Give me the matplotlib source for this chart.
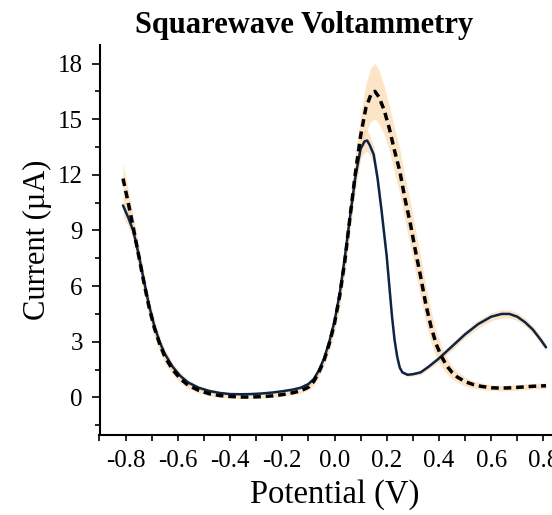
import matplotlib
matplotlib.use("Agg")
import matplotlib.pyplot as plt
from matplotlib.ticker import MultipleLocator, FormatStrFormatter

plt.rcParams['font.family'] = ['Liberation Serif', 'DejaVu Serif']
plt.rcParams['lines.scale_dashes'] = False

# Potential (V) for the solid (navy) series
pot_solid = [-0.81, -0.79, -0.77, -0.75, -0.73, -0.71, -0.69, -0.67, -0.65, -0.62,
             -0.59, -0.56, -0.52, -0.48, -0.44, -0.40, -0.36, -0.32, -0.28, -0.24,
             -0.20, -0.16, -0.13, -0.10, -0.08, -0.06, -0.04, -0.02, 0.00, 0.02,
             0.04, 0.06, 0.08, 0.10, 0.115, 0.125, 0.135, 0.15, 0.165, 0.18,
             0.20, 0.21, 0.22, 0.23, 0.24, 0.25, 0.26, 0.28, 0.30, 0.33,
             0.36, 0.40, 0.45, 0.50, 0.55, 0.60, 0.64, 0.67, 0.70, 0.73,
             0.76, 0.79, 0.81]
cur_solid = [10.35, 9.7, 8.95, 7.7, 6.3, 4.95, 3.85, 3.0, 2.35, 1.65,
             1.15, 0.8, 0.52, 0.35, 0.24, 0.18, 0.17, 0.18, 0.21, 0.26,
             0.33, 0.42, 0.52, 0.72, 0.98, 1.45, 2.1, 3.0, 4.1, 5.6,
             7.6, 9.8, 11.9, 13.4, 13.8, 13.85, 13.6, 13.1, 11.8, 10.1,
             7.6, 6.0, 4.4, 3.1, 2.2, 1.6, 1.35, 1.22, 1.25, 1.35,
             1.65, 2.1, 2.75, 3.4, 3.95, 4.35, 4.5, 4.5, 4.35, 4.05,
             3.65, 3.1, 2.7]
sd_solid = [0.55, 0.5, 0.45, 0.4, 0.35, 0.3, 0.28, 0.25, 0.22, 0.2,
            0.18, 0.15, 0.12, 0.1, 0.08, 0.08, 0.08, 0.08, 0.08, 0.08,
            0.08, 0.1, 0.1, 0.12, 0.15, 0.18, 0.2, 0.25, 0.3, 0.35,
            0.4, 0.45, 0.5, 0.55, 0.6, 0.6, 0.55, 0.5, 0.45, 0.4,
            0.35, 0.3, 0.25, 0.2, 0.15, 0.12, 0.1, 0.1, 0.1, 0.12,
            0.15, 0.18, 0.2, 0.2, 0.22, 0.22, 0.22, 0.22, 0.22, 0.22,
            0.2, 0.2, 0.2]

# Potential (V) for the dashed (black) series
pot_dash = [-0.81, -0.79, -0.77, -0.75, -0.73, -0.71, -0.69, -0.67, -0.65, -0.62,
            -0.59, -0.56, -0.52, -0.48, -0.44, -0.40, -0.36, -0.32, -0.28, -0.24,
            -0.20, -0.16, -0.13, -0.10, -0.08, -0.06, -0.04, -0.02, 0.00, 0.02,
            0.04, 0.06, 0.08, 0.10, 0.12, 0.14, 0.155, 0.17, 0.19, 0.21,
            0.23, 0.25, 0.27, 0.29, 0.31, 0.33, 0.35, 0.37, 0.39, 0.41,
            0.43, 0.45, 0.47, 0.50, 0.53, 0.56, 0.60, 0.64, 0.68, 0.72,
            0.76, 0.81]
cur_dash = [11.8, 10.5, 9.1, 7.65, 6.2, 4.85, 3.75, 2.9, 2.2, 1.5,
            1.0, 0.65, 0.38, 0.2, 0.1, 0.05, 0.02, 0.02, 0.04, 0.08,
            0.15, 0.25, 0.35, 0.55, 0.85, 1.35, 2.0, 2.9, 4.0, 5.5,
            7.4, 9.8, 12.1, 14.1, 15.6, 16.35, 16.5, 16.2, 15.5, 14.5,
            13.3, 12.2, 10.7, 9.4, 7.9, 6.5, 5.0, 3.8, 2.85, 2.2,
            1.7, 1.35, 1.1, 0.85, 0.7, 0.6, 0.52, 0.5, 0.52, 0.56,
            0.6, 0.63]
sd_dash = [0.8, 0.7, 0.65, 0.6, 0.55, 0.5, 0.45, 0.4, 0.35, 0.28,
           0.22, 0.18, 0.15, 0.12, 0.1, 0.08, 0.08, 0.08, 0.08, 0.08,
           0.1, 0.1, 0.12, 0.15, 0.2, 0.25, 0.3, 0.4, 0.5, 0.6,
           0.7, 0.8, 0.95, 1.1, 1.3, 1.45, 1.5, 1.45, 1.3, 1.2,
           1.2, 1.2, 1.2, 1.2, 1.15, 1.1, 1.0, 0.85, 0.7, 0.55,
           0.45, 0.35, 0.3, 0.25, 0.2, 0.18, 0.15, 0.15, 0.15, 0.15,
           0.15, 0.15]

x_ticks = [-0.8, -0.6, -0.4, -0.2, 0.0, 0.2, 0.4, 0.6, 0.8]
y_ticks = [0, 3, 6, 9, 12, 15, 18]

W, H = 552, 515
fig = plt.figure(figsize=(W / 100, H / 100), dpi=100)
ax = fig.add_axes([99.5 / W, (H - 434.5) / H, 470 / W, (434.5 - 45) / H])

band_color = (0.98, 0.80, 0.56)
lo_s = [c - s for c, s in zip(cur_solid, sd_solid)]
hi_s = [c + s for c, s in zip(cur_solid, sd_solid)]
lo_d = [c - s for c, s in zip(cur_dash, sd_dash)]
hi_d = [c + s for c, s in zip(cur_dash, sd_dash)]
ax.fill_between(pot_solid, lo_s, hi_s, color=band_color, alpha=0.5, lw=0)
ax.fill_between(pot_dash, lo_d, hi_d, color=band_color, alpha=0.5, lw=0)

ax.plot(pot_solid, cur_solid, color='#0c2447', lw=1.8, solid_capstyle='round')
ax.plot(pot_dash, cur_dash, color='black', lw=2.5, dashes=(5.5, 3.5))

ax.set_xlim(-0.9, 0.9)
ax.set_ylim(-2, 19)
ax.set_xticks(x_ticks)
ax.set_yticks(y_ticks)
ax.xaxis.set_major_formatter(FormatStrFormatter('%.1f'))
ax.xaxis.set_minor_locator(MultipleLocator(0.1))
ax.yaxis.set_minor_locator(MultipleLocator(1.5))

for s in ['top', 'right']:
    ax.spines[s].set_visible(False)
for s in ['left', 'bottom']:
    ax.spines[s].set_linewidth(1.5)

ax.tick_params(axis='x', which='major', direction='out', length=4.5, width=1.2, pad=7, labelsize=18)
ax.tick_params(axis='x', which='minor', direction='out', length=4.5, width=1.2)
ax.tick_params(axis='y', which='major', direction='out', length=6, width=1.2, pad=6, labelsize=18)
ax.tick_params(axis='y', which='minor', direction='out', length=3.5, width=1.2)

ax.set_xlabel('Potential (V)', fontsize=23.5, labelpad=5)
ax.set_ylabel('Current (µA)', fontsize=22)
ax.yaxis.set_label_coords(-0.1, 0.5)

fig.text(304 / W, 1 - 33 / H, 'Squarewave Voltammetry', ha='center', va='baseline',
         fontsize=22, fontweight='bold')

fig.savefig('out.png', dpi=100)
